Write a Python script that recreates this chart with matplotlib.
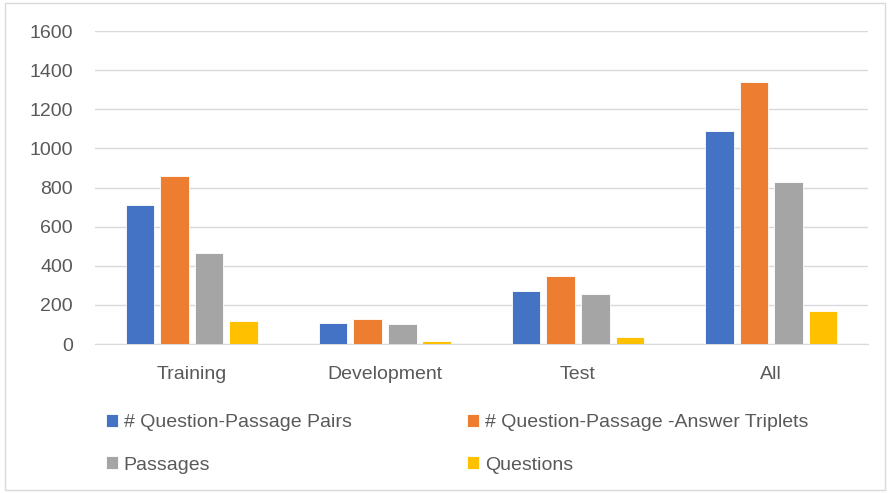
import matplotlib.pyplot as plt
import numpy as np
from matplotlib.patches import Rectangle

categories = ['Training', 'Development', 'Test', 'All']
series = ['# Question-Passage Pairs', '# Question-Passage -Answer Triplets',
          'Passages', 'Questions']
pairs = [710, 109, 272, 1089]
triplets = [859, 130, 347, 1340]
passages = [468, 101, 258, 826]
questions = [116, 14, 36, 171]
colors = ['#4472C4', '#ED7D31', '#A5A5A5', '#FFC000']

plt.rcParams['font.family'] = ['Liberation Sans', 'DejaVu Sans']
text_color = '#595959'

fig = plt.figure(figsize=(8.9, 4.93), dpi=100)
ax = fig.add_axes([0.107, 0.302, 0.868, 0.635])

x = np.arange(len(categories))
pitch = 0.179
width = 0.148
handles = []
for i, (vals, col) in enumerate(zip([pairs, triplets, passages, questions], colors)):
    b = ax.bar(x + (i - 1.5) * pitch, vals, width, color=col,
               edgecolor='white', linewidth=0.6, zorder=3, label=series[i])
    handles.append(b)

ax.set_xlim(-0.5, 3.5)
ax.set_ylim(0, 1600)
ax.set_yticks(range(0, 1601, 200))
ax.set_xticks(x)
ax.set_xticklabels(categories)
ax.grid(axis='y', color='#d9d9d9', linewidth=1, zorder=0)
for s in ['top', 'right', 'left']:
    ax.spines[s].set_visible(False)
ax.spines['bottom'].set_color('#d9d9d9')
ax.tick_params(axis='both', length=0, labelsize=14, colors=text_color)
ax.tick_params(axis='y', pad=16)
ax.tick_params(axis='x', pad=16)

# legend goes row by row in the reference, so reorder for matplotlib's column fill
order = [0, 2, 1, 3]
leg = fig.legend(handles=[handles[i] for i in order],
                 labels=[series[i] for i in order], ncol=2, loc='upper left',
                 bbox_to_anchor=(0.110, 0.176), frameon=False, fontsize=14,
                 handlelength=0.62, handleheight=0.62, handletextpad=0.3,
                 columnspacing=5.95, labelspacing=1.3, borderaxespad=0)
for t in leg.get_texts():
    t.set_color(text_color)

fig.patches.append(Rectangle((0.006, 0.006), 0.988, 0.988, transform=fig.transFigure,
                             fill=False, edgecolor='#d9d9d9', linewidth=1))

fig.savefig('out.png', dpi=100)
